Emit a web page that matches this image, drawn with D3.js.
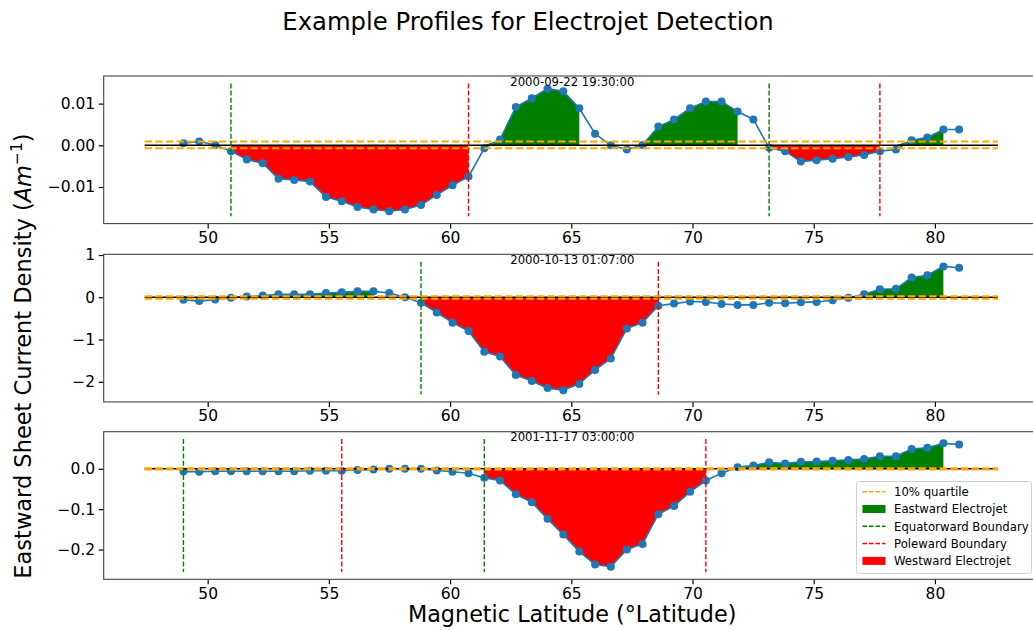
<!DOCTYPE html>
<html>
<head>
<meta charset="utf-8">
<script src="https://cdn.jsdelivr.net/npm/d3@7"></script>
<style>
  body { margin: 0; background: #fff; }
  text { font-family: "DejaVu Sans", sans-serif; }
</style>
</head>
<body>
<svg id="chart"></svg>
<script>
// magnetic latitude of each sample (same for all three profiles)
const latitudes = [49, 49.65, 50.31, 50.96, 51.61, 52.27, 52.92, 53.57, 54.22, 54.88,
    55.53, 56.18, 56.84, 57.49, 58.14, 58.8, 59.45, 60.1, 60.76, 61.41,
    62.06, 62.71, 63.37, 64.02, 64.67, 65.33, 65.98, 66.63, 67.29, 67.94,
    68.59, 69.24, 69.9, 70.55, 71.2, 71.86, 72.51, 73.16, 73.82, 74.47,
    75.12, 75.78, 76.43, 77.08, 77.73, 78.39, 79.04, 79.69, 80.35, 81];

const profile1 = [0.0005, 0.0009, 0.0001, -0.0014, -0.0034, -0.0043, -0.0080, -0.0083, -0.0087, -0.0124,
    -0.0134, -0.0148, -0.0154, -0.0158, -0.0154, -0.0143, -0.0119, -0.0096, -0.0075, -0.0007,
    0.0014, 0.0092, 0.0113, 0.0136, 0.0130, 0.0089, 0.0028, 0.0000, -0.0010, 0.0001,
    0.0045, 0.0062, 0.0089, 0.0105, 0.0105, 0.0081, 0.0062, -0.0006, -0.0014, -0.0039,
    -0.0036, -0.0032, -0.0028, -0.0023, -0.0014, -0.0010, 0.0012, 0.0019, 0.0038, 0.0038];

const profile2 = [-0.06, -0.09, -0.05, -0.01, 0.02, 0.04, 0.07, 0.07, 0.07, 0.10,
    0.12, 0.14, 0.14, 0.10, 0.00, -0.13, -0.36, -0.60, -0.80, -1.29,
    -1.40, -1.84, -1.98, -2.15, -2.20, -2.05, -1.72, -1.45, -0.74, -0.60,
    -0.20, -0.15, -0.10, -0.11, -0.16, -0.18, -0.18, -0.13, -0.14, -0.12,
    -0.11, -0.07, -0.01, 0.07, 0.19, 0.20, 0.47, 0.52, 0.73, 0.70];

const profile3 = [-0.007, -0.0075, -0.006, -0.006, -0.006, -0.006, -0.006, -0.006, -0.005, -0.005,
    -0.005, -0.003, -0.002, 0.0, 0.0, 0.0, -0.004, -0.0075, -0.011, -0.0225,
    -0.029, -0.063, -0.083, -0.124, -0.163, -0.205, -0.237, -0.2425, -0.200, -0.186,
    -0.1125, -0.092, -0.057, -0.029, -0.011, 0.004, 0.008, 0.016, 0.013, 0.0175,
    0.018, 0.020, 0.022, 0.024, 0.031, 0.031, 0.049, 0.052, 0.063, 0.060];

const times = ['2000-09-22 19:30:00', '2000-10-13 01:07:00', '2001-11-17 03:00:00'];

const yDomains = [[-0.01878, 0.01663], [-2.476, 1.017], [-0.2737, 0.0918]];
const yTicks = [[-0.01, 0, 0.01], [-2, -1, 0, 1], [-0.2, -0.1, 0]];
const yFormats = ['.2f', 'd', '.1f'];
const xTicks = [50, 55, 60, 65, 70, 75, 80];

// lower / upper 10% quartile levels
const quartiles = [[-0.0007, 0.0009], [-0.035, 0.025], [-0.0015, 0.0015]];

// sample index ranges of the detected electrojets
const westRanges = [[[3, 18], [37, 44]], [[15, 30]], [[19, 33]]];
const eastRanges = [[[19, 25], [29, 35], [45, 48]], [[4, 12], [42, 48]], [[35, 48]]];

// boundary latitudes
const equatorBounds = [[50.96, 73.16], [58.8], [49, 61.41]];
const poleBounds = [[60.76, 77.73], [68.59], [55.53, 70.55]];

const zeroSpan = [47.4, 82.6];

const legendItems = [
    { label: '10% quartile', type: 'line', color: 'orange' },
    { label: 'Eastward Electrojet', type: 'patch', color: 'green' },
    { label: 'Equatorward Boundary', type: 'line', color: 'green' },
    { label: 'Poleward Boundary', type: 'line', color: 'red' },
    { label: 'Westward Electrojet', type: 'patch', color: 'red' }
];

const width = 1033, height = 630;
const left = 103.7, right = 1040.6;
const panelTops = [76, 254.3, 431.7];
const panelHeight = 147.6;

const svg = d3.select('#chart')
    .attr('width', width)
    .attr('height', height);

const xscale = d3.scaleLinear()
    .domain([45.71, 84.36])
    .range([left, right]);

const profiles = [profile1, profile2, profile3];

profiles.forEach((values, p) => {
    const top = panelTops[p];
    const bottom = top + panelHeight;
    const data = latitudes.map((lat, i) => ({ lat: lat, v: values[i] }));

    const yscale = d3.scaleLinear()
        .domain(yDomains[p])
        .range([bottom, top]);

    const g = svg.append('g');

    // electrojet fills
    const westArea = d3.area()
        .x(d => xscale(d.lat))
        .y0(yscale(0))
        .y1(d => yscale(Math.min(d.v, 0)));
    const eastArea = d3.area()
        .x(d => xscale(d.lat))
        .y0(yscale(0))
        .y1(d => yscale(Math.max(d.v, 0)));

    westRanges[p].forEach(r => {
        g.append('path')
            .attr('d', westArea(data.slice(r[0], r[1] + 1)))
            .attr('fill', 'red');
    });
    eastRanges[p].forEach(r => {
        g.append('path')
            .attr('d', eastArea(data.slice(r[0], r[1] + 1)))
            .attr('fill', 'green');
    });

    // profile line + markers
    const line = d3.line()
        .x(d => xscale(d.lat))
        .y(d => yscale(d.v));
    g.append('path')
        .attr('d', line(data))
        .attr('fill', 'none')
        .attr('stroke', '#1f77b4')
        .attr('stroke-width', 1.6);
    g.selectAll('circle')
        .data(data)
        .join('circle')
        .attr('cx', d => xscale(d.lat))
        .attr('cy', d => yscale(d.v))
        .attr('r', 4)
        .attr('fill', '#1f77b4');

    // zero line and quartile lines
    g.append('line')
        .attr('x1', xscale(zeroSpan[0]))
        .attr('x2', xscale(zeroSpan[1]))
        .attr('y1', yscale(0))
        .attr('y2', yscale(0))
        .attr('stroke', 'black')
        .attr('stroke-width', 1.4);
    quartiles[p].forEach(q => {
        g.append('line')
            .attr('x1', xscale(zeroSpan[0]))
            .attr('x2', xscale(zeroSpan[1]))
            .attr('y1', yscale(q))
            .attr('y2', yscale(q))
            .attr('stroke', 'orange')
            .attr('stroke-width', 2)
            .attr('stroke-dasharray', '7.4,3.2');
    });

    // boundaries (5% - 95% of axes height)
    const vline = (lat, color) => {
        g.append('line')
            .attr('x1', xscale(lat))
            .attr('x2', xscale(lat))
            .attr('y1', top + panelHeight * 0.05)
            .attr('y2', top + panelHeight * 0.95)
            .attr('stroke', color)
            .attr('stroke-width', 1.4)
            .attr('stroke-dasharray', '5,2.2');
    };
    equatorBounds[p].forEach(lat => vline(lat, 'green'));
    poleBounds[p].forEach(lat => vline(lat, 'red'));

    // axes
    const xaxis = d3.axisBottom(xscale)
        .tickValues(xTicks)
        .tickSize(5)
        .tickPadding(3.5)
        .tickFormat(d3.format('d'));
    const yaxis = d3.axisLeft(yscale)
        .tickValues(yTicks[p])
        .tickSize(5)
        .tickPadding(3.5)
        .tickFormat(d3.format(yFormats[p]));

    const xg = svg.append('g')
        .attr('transform', `translate(0, ${bottom})`)
        .call(xaxis);
    const yg = svg.append('g')
        .attr('transform', `translate(${left}, 0)`)
        .call(yaxis);
    [xg, yg].forEach(a => {
        a.select('.domain').remove();
        a.selectAll('line').attr('stroke', '#000').attr('stroke-width', 1.2);
        a.selectAll('text')
            .attr('fill', '#000')
            .style('font-size', '15.5px')
            .style('font-family', '"DejaVu Sans", sans-serif');
    });

    svg.append('rect')
        .attr('x', left)
        .attr('y', top)
        .attr('width', right - left)
        .attr('height', panelHeight)
        .attr('fill', 'none')
        .attr('stroke', '#444')
        .attr('stroke-width', 1.1);

    svg.append('text')
        .attr('x', xscale(65) + 1)
        .attr('y', top + 9.6)
        .attr('text-anchor', 'middle')
        .style('font-size', '11.7px')
        .text(times[p]);
});

// legend in the bottom panel
const legend = svg.append('g').attr('transform', 'translate(856.5, 481.5)');
legend.append('rect')
    .attr('width', 175)
    .attr('height', 92)
    .attr('rx', 3)
    .attr('fill', 'white')
    .attr('fill-opacity', 0.8)
    .attr('stroke', '#d0d0d0')
    .attr('stroke-width', 1);
legendItems.forEach((item, i) => {
    const cy = 10.2 + i * 17.3;
    if (item.type === 'line') {
        legend.append('line')
            .attr('x1', 6).attr('x2', 29)
            .attr('y1', cy).attr('y2', cy)
            .attr('stroke', item.color)
            .attr('stroke-width', 1.5)
            .attr('stroke-dasharray', '4.5,2');
    } else {
        legend.append('rect')
            .attr('x', 6).attr('y', cy - 4)
            .attr('width', 23).attr('height', 8)
            .attr('fill', item.color);
    }
    legend.append('text')
        .attr('x', 37.5)
        .attr('y', cy + 4.3)
        .style('font-size', '11.7px')
        .text(item.label);
});

// titles
svg.append('text')
    .attr('x', 528)
    .attr('y', 30)
    .attr('text-anchor', 'middle')
    .style('font-size', '24.3px')
    .text('Example Profiles for Electrojet Detection');

svg.append('text')
    .attr('x', (left + right) / 2)
    .attr('y', 622)
    .attr('text-anchor', 'middle')
    .style('font-size', '22.3px')
    .text('Magnetic Latitude (°Latitude)');

const ylab = svg.append('text')
    .attr('transform', 'translate(31, 356) rotate(-90)')
    .attr('text-anchor', 'middle')
    .style('font-size', '22.5px');
ylab.append('tspan').text('Eastward Sheet Current Density (');
ylab.append('tspan').style('font-style', 'italic').text('Am');
ylab.append('tspan').attr('dy', -9).style('font-size', '15.5px').text('−1');
ylab.append('tspan').attr('dy', 9).text(')');
</script>
</body>
</html>
